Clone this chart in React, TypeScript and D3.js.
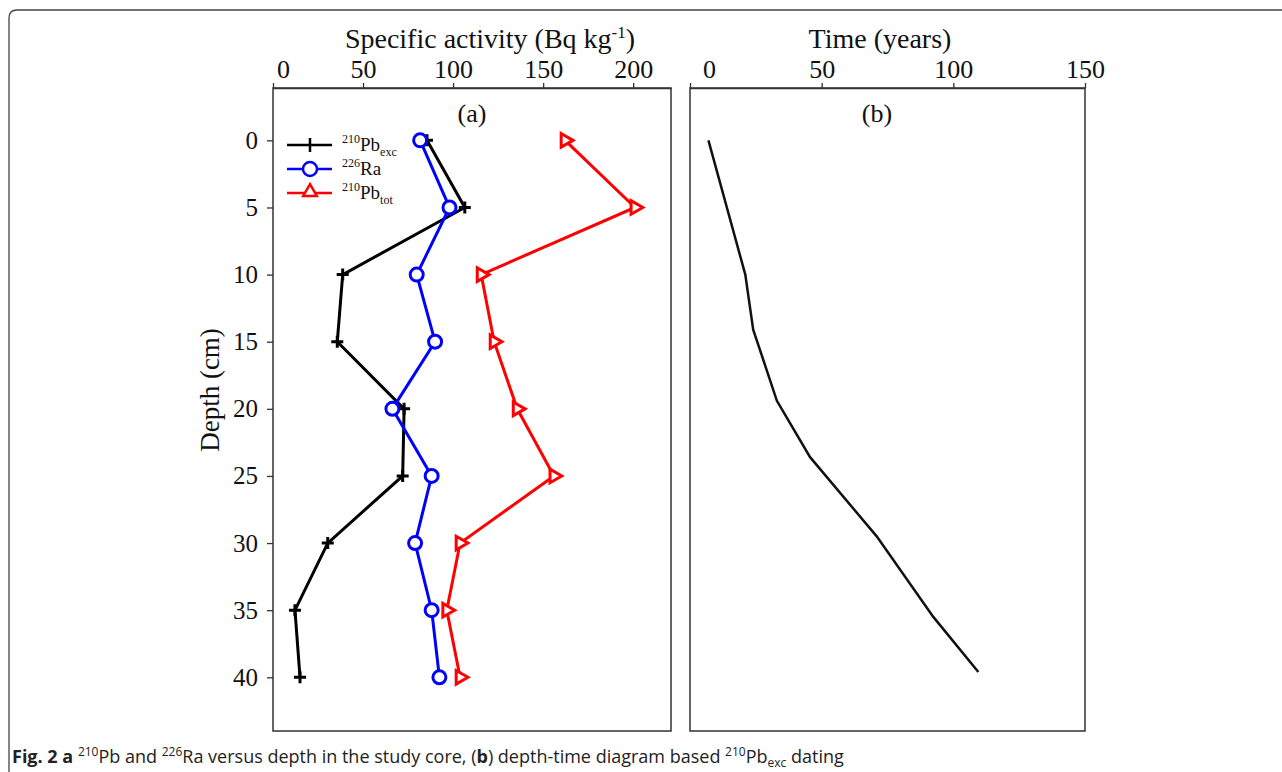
import React, { useEffect, useRef } from 'react';
import * as d3 from 'd3';

// depth profile of the core (cm)
const depths = [0, 5, 10, 15, 20, 25, 30, 35, 40];
// specific activity, Bq/kg
const pbExc = [85.5, 106.5, 38.7, 35.7, 72.8, 72, 30.4, 12.2, 15];
const ra226 = [81.7, 98, 79.8, 90, 66.3, 88.1, 78.9, 88.1, 92.4];
const pbTot = [162.2, 201, 115.6, 122.8, 135.6, 156, 103.9, 96.5, 103.9];

// depth-time model (panel b)
const ageDepths = [0, 10, 14.1, 19.4, 23.6, 29.5, 35.5, 39.6];
const ageYears = [7, 21, 24, 33, 45.6, 70.9, 92.4, 109.5];

const activityTicks = [0, 50, 100, 150, 200];
const timeTicks = [0, 50, 100, 150];
const depthTicks = [0, 5, 10, 15, 20, 25, 30, 35, 40];

const SERIF = '"Liberation Serif", "Times New Roman", serif';
const SANS = '"Open Sans", "Noto Sans", sans-serif';

const App = () => {
  const svgRef = useRef<SVGSVGElement>(null);

  useEffect(() => {
    const svg = d3.select(svgRef.current);
    svg.selectAll('*').remove();

    const top = 88;
    const bottom = 731;
    const yScale = d3.scaleLinear().domain([-3.9, 44]).range([top, bottom]);
    const xA = d3.scaleLinear().domain([0, 221]).range([273, 671]);
    const xB = d3.scaleLinear().domain([0, 150]).range([690, 1085]);

    // outer figure border
    svg
      .append('path')
      .attr('d', 'M9,790 V18 Q9,10 17,10 H1300')
      .attr('fill', 'none')
      .attr('stroke', '#444')
      .attr('stroke-width', 1.3);

    // panel frames
    [xA, xB].forEach((xs) => {
      svg
        .append('rect')
        .attr('x', xs.range()[0])
        .attr('y', top)
        .attr('width', xs.range()[1] - xs.range()[0])
        .attr('height', bottom - top)
        .attr('fill', 'none')
        .attr('stroke', '#333')
        .attr('stroke-width', 1.5);
    });

    // top axes
    const axisA = svg
      .append('g')
      .attr('transform', `translate(0,${top})`)
      .call(d3.axisTop(xA).tickValues(activityTicks).tickSize(5).tickSizeOuter(0).tickPadding(5));
    const axisB = svg
      .append('g')
      .attr('transform', `translate(0,${top})`)
      .call(d3.axisTop(xB).tickValues(timeTicks).tickSize(5).tickSizeOuter(0).tickPadding(5));
    [axisA, axisB].forEach((g, i) => {
      g.select('.domain').attr('stroke', '#333').attr('stroke-width', 1.5);
      g.selectAll('line').attr('stroke', '#333').attr('stroke-width', 1.3);
      g.selectAll('text')
        .attr('font-family', SERIF)
        .attr('font-size', 26)
        .attr('fill', '#111');
      // the zero label sits a little right of its tick in the original
      g.selectAll('text')
        .filter((d) => d === 0)
        .attr('dx', i === 0 ? 10 : 19);
    });

    // depth axis
    const axisY = svg
      .append('g')
      .attr('transform', `translate(${xA.range()[0]},0)`)
      .call(d3.axisLeft(yScale).tickValues(depthTicks).tickSize(6).tickSizeOuter(0).tickPadding(9));
    axisY.select('.domain').remove();
    axisY.selectAll('line').attr('stroke', '#333').attr('stroke-width', 1.3);
    axisY.selectAll('text').attr('font-family', SERIF).attr('font-size', 25).attr('fill', '#111');

    // axis titles
    const title = svg
      .append('text')
      .attr('x', 490)
      .attr('y', 48)
      .attr('text-anchor', 'middle')
      .attr('font-family', SERIF)
      .attr('font-size', 28)
      .attr('fill', '#111');
    title.append('tspan').text('Specific activity (Bq kg');
    title.append('tspan').attr('font-size', 17).attr('dy', -10).text('-1');
    title.append('tspan').attr('dy', 10).text(')');

    svg
      .append('text')
      .attr('x', 880)
      .attr('y', 48)
      .attr('text-anchor', 'middle')
      .attr('font-family', SERIF)
      .attr('font-size', 28)
      .attr('fill', '#111')
      .text('Time (years)');

    svg
      .append('text')
      .attr('transform', 'translate(219,390) rotate(-90)')
      .attr('text-anchor', 'middle')
      .attr('font-family', SERIF)
      .attr('font-size', 27)
      .attr('fill', '#111')
      .text('Depth (cm)');

    // panel labels
    [['(a)', 472], ['(b)', 877]].forEach(([t, x]) => {
      svg
        .append('text')
        .attr('x', x as number)
        .attr('y', 122)
        .attr('text-anchor', 'middle')
        .attr('font-family', SERIF)
        .attr('font-size', 26)
        .attr('fill', '#111')
        .text(t as string);
    });

    // marker shapes
    const plusPath = 'M-6,0H6M0,-6V6';
    const triRight = d3.symbol().type(d3.symbolTriangle).size(80)();
    const drawMarker = (g, kind, color, rotate) => {
      if (kind === 'plus') {
        g.append('path').attr('d', plusPath).attr('stroke', color).attr('stroke-width', 3).attr('fill', 'none');
      } else if (kind === 'circle') {
        g.append('circle').attr('r', 6.5).attr('fill', 'white').attr('stroke', color).attr('stroke-width', 3);
      } else {
        g.append('path')
          .attr('d', triRight)
          .attr('transform', `rotate(${rotate})`)
          .attr('fill', 'white')
          .attr('stroke', color)
          .attr('stroke-width', 3);
      }
    };

    const series = [
      { values: pbExc, color: '#000000', kind: 'plus' },
      { values: ra226, color: '#0000ff', kind: 'circle' },
      { values: pbTot, color: '#ff0000', kind: 'tri' },
    ];

    const line = d3
      .line<[number, number]>()
      .x((d) => xA(d[0]))
      .y((d) => yScale(d[1]));

    series.forEach((s) => {
      const pts: [number, number][] = s.values.map((v, i) => [v, depths[i]]);
      svg
        .append('path')
        .attr('d', line(pts))
        .attr('fill', 'none')
        .attr('stroke', s.color)
        .attr('stroke-width', 3);
      pts.forEach((p) => {
        const g = svg.append('g').attr('transform', `translate(${xA(p[0])},${yScale(p[1])})`);
        drawMarker(g, s.kind, s.color, 90);
      });
    });

    // legend
    const legendRows = [
      { color: '#000000', kind: 'plus', sup: '210', main: 'Pb', sub: 'exc', y: 145 },
      { color: '#0000ff', kind: 'circle', sup: '226', main: 'Ra', sub: '', y: 169 },
      { color: '#ff0000', kind: 'tri', sup: '210', main: 'Pb', sub: 'tot', y: 193 },
    ];
    legendRows.forEach((r) => {
      svg
        .append('line')
        .attr('x1', 287)
        .attr('x2', 332)
        .attr('y1', r.y)
        .attr('y2', r.y)
        .attr('stroke', r.color)
        .attr('stroke-width', 2.5);
      const g = svg.append('g').attr('transform', `translate(310,${r.y})`);
      if (r.kind === 'plus') {
        g.append('path').attr('d', 'M0,-7V7').attr('stroke', r.color).attr('stroke-width', 2.5);
      } else if (r.kind === 'circle') {
        g.append('circle').attr('r', 7).attr('fill', 'white').attr('stroke', r.color).attr('stroke-width', 2.5);
      } else {
        g.append('path').attr('d', triRight).attr('transform', 'translate(0,-1)').attr('fill', 'white').attr('stroke', r.color).attr('stroke-width', 2.5);
      }
      const t = svg
        .append('text')
        .attr('x', 342)
        .attr('y', r.y + 6)
        .attr('font-family', SERIF)
        .attr('font-size', 19)
        .attr('fill', '#111');
      t.append('tspan').attr('font-size', 12).attr('dy', -8).text(r.sup);
      t.append('tspan').attr('dy', 8).text(r.main);
      if (r.sub) t.append('tspan').attr('font-size', 12).attr('dy', 5).text(r.sub);
    });

    // panel b: depth-time curve
    const ageLine = d3
      .line<number>()
      .x((d) => xB(d))
      .y((d, i) => yScale(ageDepths[i]));
    svg
      .append('path')
      .attr('d', ageLine(ageYears))
      .attr('fill', 'none')
      .attr('stroke', '#111')
      .attr('stroke-width', 2.5);

    // caption
    const cap = svg
      .append('text')
      .attr('x', 12)
      .attr('y', 763)
      .attr('font-family', SANS)
      .attr('font-size', 18)
      .attr('fill', '#222');
    cap.append('tspan').attr('font-weight', 'bold').text('Fig. 2  a ');
    cap.append('tspan').attr('font-size', 12).attr('dy', -7).text('210');
    cap.append('tspan').attr('dy', 7).text('Pb and ');
    cap.append('tspan').attr('font-size', 12).attr('dy', -7).text('226');
    cap.append('tspan').attr('dy', 7).text('Ra versus depth in the study core, (');
    cap.append('tspan').attr('font-weight', 'bold').text('b');
    cap.append('tspan').text(') depth-time diagram based ');
    cap.append('tspan').attr('font-size', 12).attr('dy', -7).text('210');
    cap.append('tspan').attr('dy', 7).text('Pb');
    cap.append('tspan').attr('font-size', 12).attr('dy', 4).text('exc');
    cap.append('tspan').attr('dy', -4).text(' dating');
  }, []);

  return (
    <svg
      ref={svgRef}
      width={1282}
      height={772}
      style={{ position: 'absolute', left: 0, top: 0, background: 'white' }}
    />
  );
};

export default App;
